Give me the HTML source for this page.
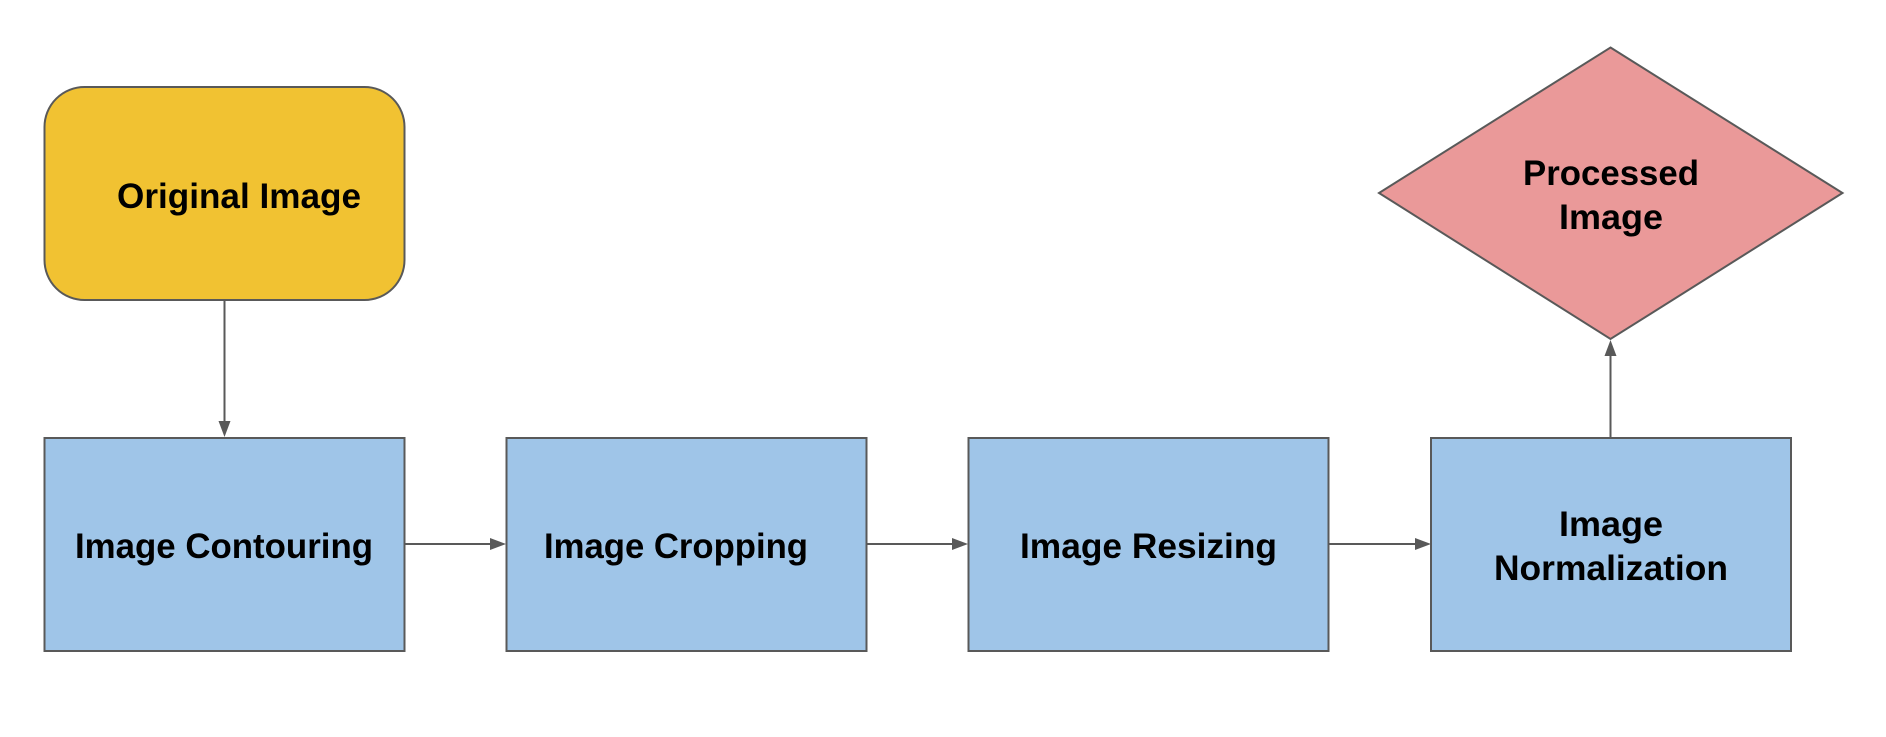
<!DOCTYPE html>
<html><head><meta charset="utf-8"><style>html,body{margin:0;padding:0;background:#fff;}svg{display:block}</style></head>
<body>
<svg width="1886" height="737" viewBox="0 0 1886 737" xmlns="http://www.w3.org/2000/svg">
<g stroke="#595959" stroke-width="2">
<rect x="44.5" y="87" width="360" height="213" rx="40" ry="40" fill="#f1c232"/>
<rect x="44.5" y="438" width="360" height="213" fill="#9fc5e8"/>
<rect x="506.5" y="438" width="360" height="213" fill="#9fc5e8"/>
<rect x="968.5" y="438" width="360" height="213" fill="#9fc5e8"/>
<rect x="1431" y="438" width="360" height="213" fill="#9fc5e8"/>
<polygon points="1610.5,47.5 1842.5,193 1610.5,339 1379,193" fill="#ea9999"/>
<line x1="224.5" y1="300" x2="224.5" y2="424"/>
<line x1="405" y1="544" x2="492" y2="544"/>
<line x1="867" y1="544" x2="954" y2="544"/>
<line x1="1329" y1="544" x2="1417" y2="544"/>
<line x1="1610.5" y1="438" x2="1610.5" y2="353"/>
</g>
<g fill="#595959">
<polygon points="218.5,421 230.5,421 224.5,437"/>
<polygon points="490,538 490,550 506,544"/>
<polygon points="952,538 952,550 968,544"/>
<polygon points="1415,538 1415,550 1431,544"/>
<polygon points="1604.5,356 1616.5,356 1610.5,340"/>
</g>
<g font-family="Liberation Sans, sans-serif" font-weight="bold" font-size="35" fill="#000">
<text x="117" y="208" textLength="244" lengthAdjust="spacingAndGlyphs">Original Image</text>
<text x="75" y="558" textLength="298" lengthAdjust="spacingAndGlyphs">Image Contouring</text>
<text x="544" y="558" textLength="264" lengthAdjust="spacingAndGlyphs">Image Cropping</text>
<text x="1020" y="558" textLength="257" lengthAdjust="spacingAndGlyphs">Image Resizing</text>
<text x="1559" y="536" textLength="104" lengthAdjust="spacingAndGlyphs">Image</text>
<text x="1494" y="580" textLength="234" lengthAdjust="spacingAndGlyphs">Normalization</text>
<text x="1523" y="185" textLength="176" lengthAdjust="spacingAndGlyphs">Processed</text>
<text x="1559" y="229" textLength="104" lengthAdjust="spacingAndGlyphs">Image</text>
</g>
</svg>
</body></html>
